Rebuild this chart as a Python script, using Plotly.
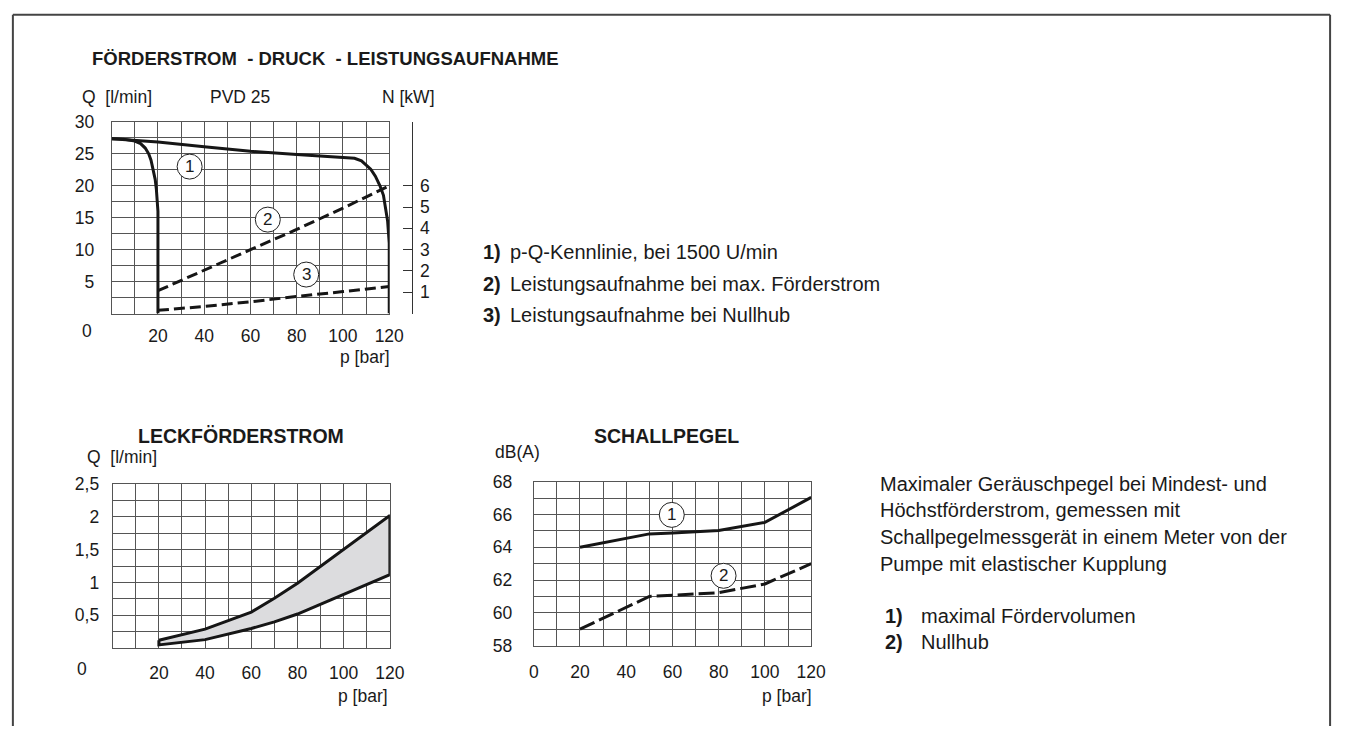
import plotly.graph_objects as go

# ---------------- data ----------------
# Top chart: p-Q characteristic (Q in l/min vs p in bar)
pq_min_p = [0, 5, 10, 12.5, 14.5, 16, 17, 18, 18.8, 19.3, 19.7, 20, 20]
pq_min_q = [27.35, 27.3, 27.0, 26.6, 25.9, 25.0, 24.0, 22.5, 21.0, 19.5, 18.0, 16.0, 0]
pq_max_p = [0, 10, 20, 40, 60, 80, 100, 105, 108, 110, 112, 114, 116, 117.5, 118.5, 119.3, 120, 120]
pq_max_q = [27.35, 27.1, 26.85, 26.1, 25.4, 24.9, 24.5, 24.3, 23.9, 23.3, 22.6, 21.5, 20.0, 18.5, 16.5, 14.5, 11.0, 0]
# Power consumption N in kW
n_max_p = [20, 40, 60, 80, 100, 120]
n_max_kw = [1.07, 2.05, 3.0, 3.95, 4.95, 6.0]
n_null_p = [20, 40, 60, 70, 80, 100, 120]
n_null_kw = [0.15, 0.33, 0.55, 0.66, 0.8, 1.03, 1.27]

# Leakage flow
leak_up_p = [20, 40, 60, 70, 80, 90, 100, 110, 120]
leak_up_q = [0.12, 0.29, 0.55, 0.76, 0.99, 1.25, 1.50, 1.76, 2.02]
leak_lo_p = [20, 40, 60, 70, 80, 100, 120]
leak_lo_q = [0.05, 0.13, 0.30, 0.40, 0.52, 0.82, 1.12]

# Sound level
snd_p = [20, 50, 60, 80, 100, 120]
snd_max = [64.0, 64.82, 64.88, 65.03, 65.52, 67.05]
snd_null = [59.0, 61.0, 61.07, 61.23, 61.76, 63.0]

# tick labels
top_x_ticks = [10, 20, 30, 40, 50, 60, 70, 80, 90, 100, 110, 120]
top_x_text = ["", "20", "", "40", "", "60", "", "80", "", "100", "", "120"]
top_y_ticks = [2.5, 5, 7.5, 10, 12.5, 15, 17.5, 20, 22.5, 25, 27.5, 30]
top_y_text = ["", "5", "", "10", "", "15", "", "20", "", "25", "", "30"]
n_ticks = [0, 1, 2, 3, 4, 5, 6, 9]
n_text = ["", "1", "2", "3", "4", "5", "6", ""]
leak_y_ticks = [0.25, 0.5, 0.75, 1, 1.25, 1.5, 1.75, 2, 2.25, 2.5]
leak_y_text = ["", "0,5", "", "1", "", "1,5", "", "2", "", "2,5"]
snd_x_ticks = [0, 10, 20, 30, 40, 50, 60, 70, 80, 90, 100, 110, 120]
snd_x_text = ["0", "", "20", "", "40", "", "60", "", "80", "", "100", "", "120"]
snd_y_ticks = [58, 59, 60, 61, 62, 63, 64, 65, 66, 67, 68]
snd_y_text = ["58", "", "60", "", "62", "", "64", "", "66", "", "68"]

# ---------------- helpers ----------------
W, H = 1351, 736
FONT = "Liberation Sans, Arial, sans-serif"
TXT = "#1a1a1a"
GRID = "#555555"
LINE = "#161616"
TICK_SIZE = 17.5
TEXT_SIZE = 20


def px(x):
    return x / W


def py(y):
    return 1 - y / H


fig = go.Figure()

# top chart traces
fig.add_trace(go.Scatter(x=pq_min_p, y=pq_min_q, mode="lines", line=dict(color=LINE, width=3), xaxis="x", yaxis="y"))
fig.add_trace(go.Scatter(x=pq_max_p, y=pq_max_q, mode="lines", line=dict(color=LINE, width=3), xaxis="x", yaxis="y"))
fig.add_trace(go.Scatter(x=n_max_p, y=n_max_kw, mode="lines", line=dict(color=LINE, width=3, dash="11px,5px"), xaxis="x", yaxis="y2"))
fig.add_trace(go.Scatter(x=n_null_p, y=n_null_kw, mode="lines", line=dict(color=LINE, width=3, dash="11px,5px"), xaxis="x", yaxis="y2"))

# leakage band
poly_x = leak_up_p + leak_lo_p[::-1] + [leak_up_p[0]]
poly_y = leak_up_q + leak_lo_q[::-1] + [leak_up_q[0]]
fig.add_trace(go.Scatter(x=poly_x, y=poly_y, mode="lines", fill="toself", fillcolor="#dcdcde",
                         line=dict(color=LINE, width=3), xaxis="x2", yaxis="y3"))

# sound
fig.add_trace(go.Scatter(x=snd_p, y=snd_max, mode="lines", line=dict(color=LINE, width=3), xaxis="x3", yaxis="y4"))
fig.add_trace(go.Scatter(x=snd_p, y=snd_null, mode="lines", line=dict(color=LINE, width=3, dash="16px,5px"), xaxis="x3", yaxis="y4"))

tickfont = dict(family=FONT, size=TICK_SIZE, color=TXT)


def xax(domain, anchor, tv, tt, standoff):
    return dict(domain=domain, anchor=anchor, range=[0, 120], tickvals=tv, ticktext=tt,
                showgrid=True, gridcolor=GRID, gridwidth=1, showline=True, mirror=True,
                linecolor=GRID, linewidth=1, zeroline=False, ticks="", tickfont=tickfont,
                ticklabelstandoff=standoff, fixedrange=True)


def yax(domain, anchor, rng, tv, tt, standoff):
    return dict(domain=domain, anchor=anchor, range=rng, tickvals=tv, ticktext=tt,
                showgrid=True, gridcolor=GRID, gridwidth=1, showline=True, mirror=True,
                linecolor=GRID, linewidth=1, zeroline=False, ticks="", tickfont=tickfont,
                ticklabelstandoff=standoff, fixedrange=True)


fig.update_layout(
    width=W, height=H, margin=dict(l=0, r=0, t=0, b=0),
    paper_bgcolor="white", plot_bgcolor="white", showlegend=False,
    font=dict(family=FONT, color=TXT),
    xaxis=xax([px(108.3), px(390)], "y", top_x_ticks, top_x_text, 6),
    yaxis=yax([py(312), py(115)], "x", [0, 30], top_y_ticks, top_y_text, 13),
    yaxis2=dict(overlaying="y", side="right", anchor="free", position=px(412.7), range=[0, 9],
                tickvals=n_ticks, ticktext=n_text, showgrid=False, showline=True, linecolor="#333",
                linewidth=1, ticks="inside", ticklen=9, tickcolor="#333", tickwidth=1,
                zeroline=False, tickfont=tickfont, ticklabelstandoff=4, fixedrange=True),
    xaxis2=xax([px(109.3), px(390.7)], "y3", top_x_ticks, top_x_text, 9),
    yaxis3=yax([py(656), py(487.3)], "x2", [0, 2.5], leak_y_ticks, leak_y_text, 9),
    xaxis3=xax([px(536.7), px(818.3)], "y4", snd_x_ticks, snd_x_text, 10),
    yaxis4=yax([py(653.3), py(485)], "x3", [58, 68], snd_y_ticks, snd_y_text, 17),
)

annots = []


def ann(text, x, y, xanchor="left", size=TICK_SIZE, bold=False):
    if bold:
        text = "<b>" + text + "</b>"
    annots.append(dict(text=text, x=px(x), y=py(y), xref="paper", yref="paper",
                       xanchor=xanchor, yanchor="middle", showarrow=False,
                       font=dict(family=FONT, size=size, color=TXT)))


ann("FÖRDERSTROM  - DRUCK  - LEISTUNGSAUFNAHME", 86, 50, size=18.5, bold=True)
ann("Q  [l/min]", 76, 89)
ann("PVD 25", 206, 89)
ann("N [kW]", 381, 89)
ann("0", 83, 330, xanchor="center")
ann("p [bar]", 393, 357, xanchor="right")

ann("1)", 483, 249, size=TEXT_SIZE, bold=True)
ann("p-Q-Kennlinie, bei 1500 U/min", 511, 249, size=TEXT_SIZE)
ann("2)", 483, 282, size=TEXT_SIZE, bold=True)
ann("Leistungsaufnahme bei max. Förderstrom", 511, 282, size=TEXT_SIZE)
ann("3)", 483, 314, size=TEXT_SIZE, bold=True)
ann("Leistungsaufnahme bei Nullhub", 511, 314, size=TEXT_SIZE)

ann("LECKFÖRDERSTROM", 240, 438, xanchor="center", size=19.5, bold=True)
ann("Q  [l/min]", 81, 459)
ann("0", 78, 677, xanchor="center")
ann("p [bar]", 391, 705, xanchor="right")

ann("SCHALLPEGEL", 671, 438, xanchor="center", size=19.5, bold=True)
ann("dB(A)", 495, 454)
ann("p [bar]", 821, 705, xanchor="right")

for i, line in enumerate(["Maximaler Geräuschpegel bei Mindest- und",
                          "Höchstförderstrom, gemessen mit",
                          "Schallpegelmessgerät in einem Meter von der",
                          "Pumpe mit elastischer Kupplung"]):
    ann(line, 886, [487, 514, 542, 569][i], size=TEXT_SIZE)
ann("1)", 891, 623, size=TEXT_SIZE, bold=True)
ann("maximal Fördervolumen", 928, 623, size=TEXT_SIZE)
ann("2)", 891, 650, size=TEXT_SIZE, bold=True)
ann("Nullhub", 928, 650, size=TEXT_SIZE)

# circled curve labels (label positions in axis units)
circles = [("1", "x", "y", 33.7, 23.0), ("2", "x", "y", 67.5, 14.7), ("3", "x", "y", 84.1, 6.1),
           ("1", "x3", "y4", 59.7, 65.98), ("2", "x3", "y4", 82.1, 62.26)]
shapes = []
for t, xr, yr, cx, cy in circles:
    shapes.append(dict(type="circle", xref=xr, yref=yr, xsizemode="pixel", ysizemode="pixel",
                       xanchor=cx, yanchor=cy, x0=-12.5, x1=12.5, y0=-12.5, y1=12.5,
                       line=dict(color="#222", width=1), fillcolor="white", layer="above"))
    annots.append(dict(text=t, x=cx, y=cy, xref=xr, yref=yr, showarrow=False,
                       xanchor="center", yanchor="middle",
                       font=dict(family=FONT, size=17, color=TXT)))

# outer frame: left, top and right edges only (open at the bottom of the page)
frame = dict(color="#444", width=2)
for x0, y0, x1, y1 in [(px(8), 0, px(8), py(5)), (px(8), py(5), px(1345), py(5)),
                       (px(1345), py(5), px(1345), 0)]:
    shapes.append(dict(type="line", xref="paper", yref="paper", x0=x0, y0=y0, x1=x1, y1=y1,
                       line=frame, layer="above"))

fig.update_layout(annotations=annots, shapes=shapes)

fig.write_html("out.html", config={"displayModeBar": False},
               post_script="document.body.style.margin='0';document.body.style.overflow='hidden';")
